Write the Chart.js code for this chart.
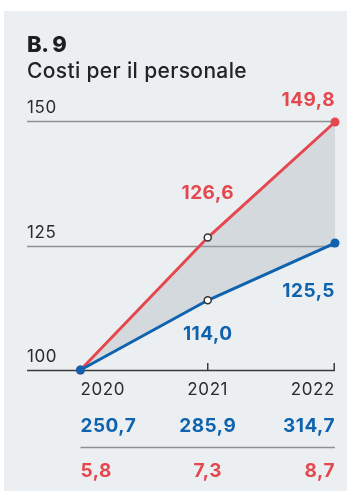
<!DOCTYPE html>
<html>
<head>
<meta charset="utf-8">
<script src="https://cdn.jsdelivr.net/npm/chart.js@4.4.1/dist/chart.umd.min.js"></script>
<style>
  html, body { margin: 0; padding: 0; background: #ffffff; }
  body { width: 347px; height: 491px; position: relative; overflow: hidden; font-family: Inter, "Noto Sans", sans-serif; }
  #panel { position: absolute; left: 4px; top: 11px; right: 0; bottom: 0; background: #eceff1; }
  #code { position: absolute; left: 27px; top: 31px; font-size: 22px; font-weight: 800; color: #1e1e1e; line-height: 26px; letter-spacing: -0.3px; }
  #title { position: absolute; left: 27px; top: 58px; font-size: 21px; font-weight: 500; color: #222; line-height: 25px; white-space: nowrap; letter-spacing: 0.35px; }
  #wrap { position: absolute; left: 0; top: 0; width: 347px; height: 491px; }
</style>
</head>
<body>
<div id="panel"></div>
<div id="wrap"><canvas id="c"></canvas></div>
<div id="code">B. 9</div>
<div id="title">Costi per il personale</div>
<script>
// ---- data ----
const years = [2020, 2021, 2022];
const redIndex = [100, 126.6, 149.8];
const blueIndex = [100, 114.0, 125.5];
const blueRow = [250.7, 285.9, 314.7];
const redRow = [5.8, 7.3, 8.7];
const yTicks = [100, 125, 150];

const RED = '#e5474f';
const BLUE = '#0f63ae';
const TEXT = '#2b2b2b';
const fmt = v => v.toFixed(1).replace('.', ',');
const fmtInt = v => String(v);

const alignFor = ['left', 'center', 'right'];
const REG = '400 17px Inter, "Noto Sans", sans-serif';
const BOLD = '700 19px Inter, "Noto Sans", sans-serif';

const overlay = {
  id: 'overlay',
  beforeDatasetsDraw(chart) {
    const ctx = chart.ctx;
    const xs = chart.scales.x, ys = chart.scales.y;
    const left = chart.chartArea.left, right = chart.chartArea.right;
    ctx.save();
    yTicks.forEach(t => {
      const y = Math.round(ys.getPixelForValue(t)) + 0.5;
      ctx.beginPath();
      ctx.strokeStyle = t === yTicks[0] ? '#3a3a3a' : '#8c9196';
      ctx.lineWidth = 1.5;
      ctx.moveTo(left, y);
      ctx.lineTo(right, y);
      ctx.stroke();
    });
    const yb = ys.getPixelForValue(yTicks[0]);
    ctx.strokeStyle = '#3a3a3a';
    ctx.lineWidth = 1.5;
    years.slice(1).forEach(yr => {
      const off = yr === years[years.length - 1] ? 0.75 : 0;
      const x = xs.getPixelForValue(yr) - off;
      ctx.beginPath();
      ctx.moveTo(x, yb);
      ctx.lineTo(x, yb - 7);
      ctx.stroke();
    });
    ctx.restore();
  },
  afterDraw(chart) {
    const ctx = chart.ctx;
    const xs = chart.scales.x, ys = chart.scales.y;
    const left = chart.chartArea.left;
    ctx.save();
    ctx.textBaseline = 'alphabetic';
    ctx.font = REG;
    ctx.letterSpacing = '0.6px';
    ctx.fillStyle = TEXT;
    ctx.textAlign = 'left';
    yTicks.forEach(t => {
      ctx.fillText(fmtInt(t), left, ys.getPixelForValue(t) - 8);
    });
    const yb = ys.getPixelForValue(yTicks[0]);
    years.forEach((yr, i) => {
      ctx.textAlign = alignFor[i];
      ctx.fillText(String(yr), xs.getPixelForValue(yr), yb + 25);
    });
    ctx.font = BOLD;
    ctx.letterSpacing = '0.5px';
    ctx.fillStyle = RED;
    ctx.textAlign = 'center';
    ctx.fillText(fmt(redIndex[1]), xs.getPixelForValue(years[1]), ys.getPixelForValue(redIndex[1]) - 39);
    ctx.textAlign = 'right';
    ctx.fillText(fmt(redIndex[2]), xs.getPixelForValue(years[2]), ys.getPixelForValue(redIndex[2]) - 16);
    ctx.fillStyle = BLUE;
    ctx.textAlign = 'center';
    ctx.fillText(fmt(blueIndex[1]), xs.getPixelForValue(years[1]), ys.getPixelForValue(blueIndex[1]) + 40);
    ctx.textAlign = 'right';
    ctx.fillText(fmt(blueIndex[2]), xs.getPixelForValue(years[2]), ys.getPixelForValue(blueIndex[2]) + 54);
    ctx.fillStyle = BLUE;
    blueRow.forEach((v, i) => {
      ctx.textAlign = alignFor[i];
      ctx.fillText(fmt(v), xs.getPixelForValue(years[i]), yb + 62);
    });
    const sy = Math.round(yb + 77) + 0.5;
    ctx.beginPath();
    ctx.strokeStyle = '#8c9196';
    ctx.lineWidth = 1.5;
    ctx.moveTo(xs.getPixelForValue(years[0]), sy);
    ctx.lineTo(xs.getPixelForValue(years[2]), sy);
    ctx.stroke();
    ctx.fillStyle = RED;
    redRow.forEach((v, i) => {
      ctx.textAlign = alignFor[i];
      ctx.fillText(fmt(v), xs.getPixelForValue(years[i]), yb + 107);
    });
    ctx.restore();
  }
};

new Chart(document.getElementById('c'), {
  type: 'line',
  data: {
    datasets: [
      {
        label: 'blue',
        data: years.map((x, i) => ({ x, y: blueIndex[i] })),
        borderColor: BLUE,
        borderWidth: 3,
        pointRadius: [4.5, 3.5, 4.5],
        pointBackgroundColor: [BLUE, '#ffffff', BLUE],
        pointBorderColor: [BLUE, '#333333', BLUE],
        pointBorderWidth: [0, 1.5, 0],
        fill: false,
        clip: false,
        tension: 0
      },
      {
        label: 'red',
        data: years.map((x, i) => ({ x, y: redIndex[i] })),
        borderColor: RED,
        borderWidth: 3,
        pointRadius: [4.5, 3.5, 4.5],
        pointBackgroundColor: [RED, '#ffffff', RED],
        pointBorderColor: [RED, '#333333', RED],
        pointBorderWidth: [0, 1.5, 0],
        fill: { target: 0 },
        backgroundColor: 'rgba(160,170,180,0.32)',
        clip: false,
        tension: 0
      }
    ]
  },
  options: {
    responsive: true,
    maintainAspectRatio: false,
    animation: false,
    events: [],
    layout: { padding: { left: 27, right: 12, top: 121, bottom: 121 } },
    plugins: { legend: { display: false }, tooltip: { enabled: false }, title: { display: false } },
    scales: {
      x: { type: 'linear', min: 2019.58, max: 2022, display: false },
      y: { type: 'linear', min: 100, max: 150, display: false }
    }
  },
  plugins: [overlay]
});
</script>
</body>
</html>
